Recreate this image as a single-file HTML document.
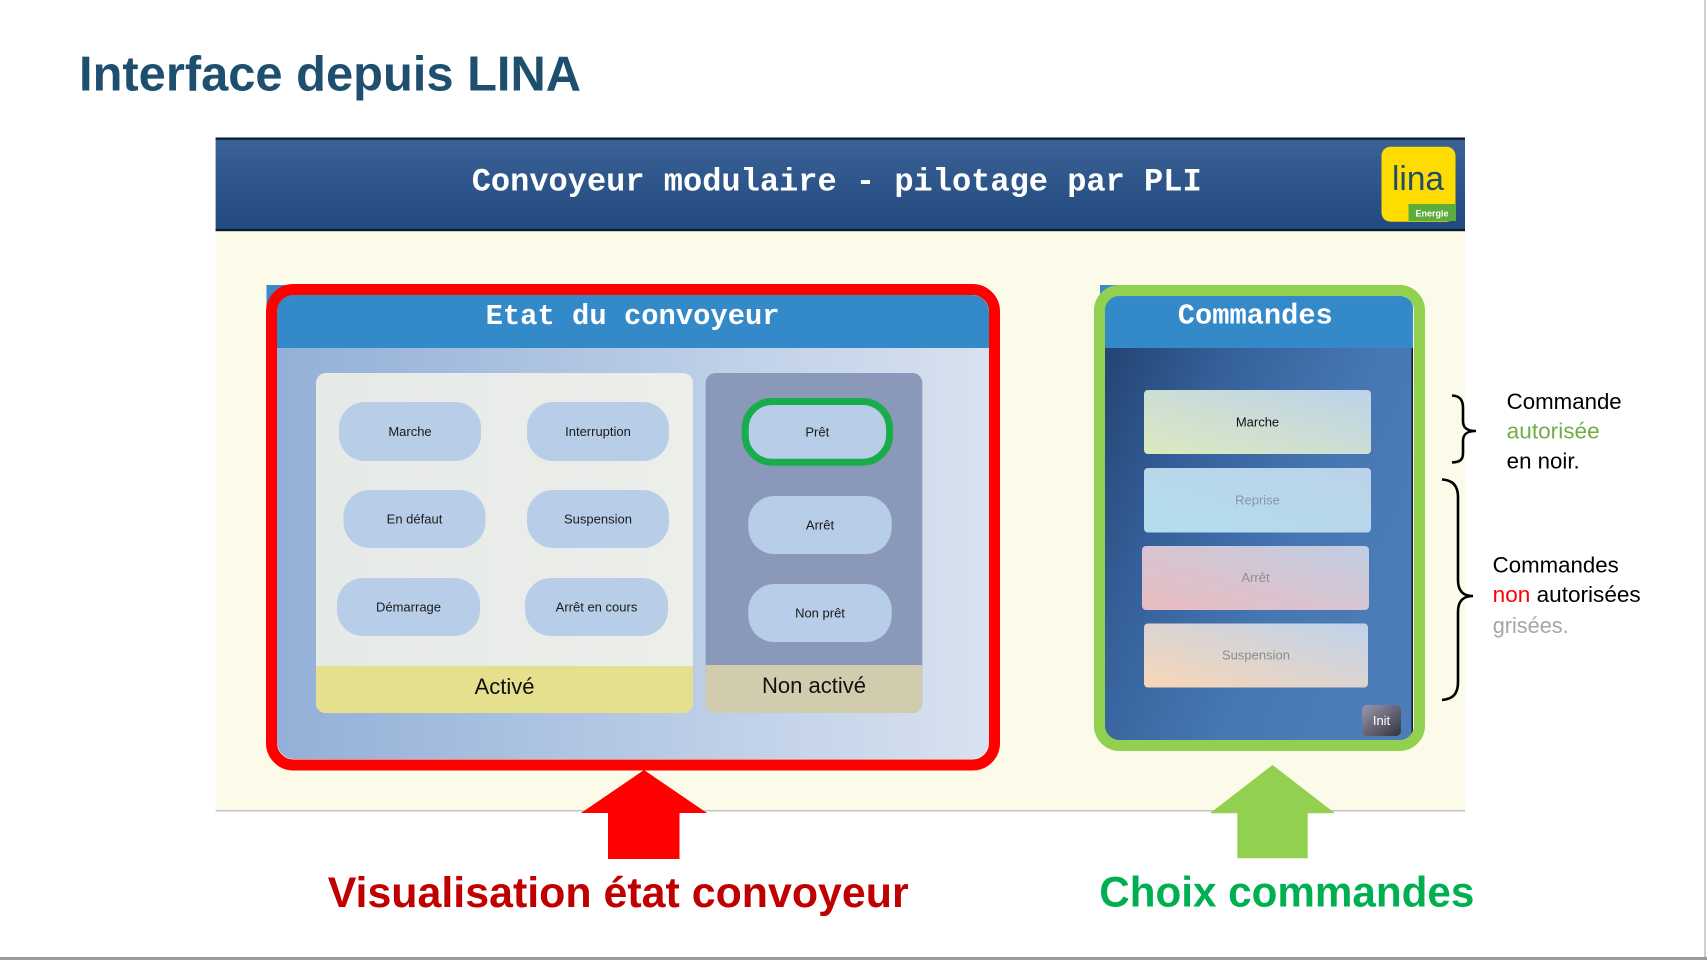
<!DOCTYPE html>
<html>
<head>
<meta charset="utf-8">
<style>
html,body{margin:0;padding:0;background:#fff;}
body{width:1707px;height:960px;overflow:hidden;}
svg{display:block;}
.sans{font-family:"Liberation Sans",Arial,sans-serif;}
.mono{font-family:"Liberation Mono","Courier New",monospace;}
</style>
</head>
<body>
<svg width="1707" height="960" viewBox="0 0 1707 960" xmlns="http://www.w3.org/2000/svg">
<defs>
  <linearGradient id="hdr" x1="0" y1="0" x2="0" y2="1">
    <stop offset="0" stop-color="#3a6297"/>
    <stop offset="1" stop-color="#22497e"/>
  </linearGradient>
  <linearGradient id="redbody" x1="0" y1="0" x2="1" y2="0">
    <stop offset="0" stop-color="#93b0d8"/>
    <stop offset="0.5" stop-color="#b5c9e4"/>
    <stop offset="1" stop-color="#d8e2f0"/>
  </linearGradient>
  <linearGradient id="actgrey" x1="0" y1="0" x2="1" y2="0">
    <stop offset="0" stop-color="#e6eae6"/>
    <stop offset="1" stop-color="#eceeea"/>
  </linearGradient>
  <linearGradient id="cmdbody" x1="0" y1="0" x2="1" y2="0.6">
    <stop offset="0" stop-color="#203f6c"/>
    <stop offset="0.35" stop-color="#35609a"/>
    <stop offset="0.7" stop-color="#4677b3"/>
    <stop offset="1" stop-color="#4c7db8"/>
  </linearGradient>
  <linearGradient id="bMarche" x1="0" y1="1" x2="1" y2="0">
    <stop offset="0" stop-color="#dce9c0"/>
    <stop offset="1" stop-color="#bcd2ea"/>
  </linearGradient>
  <linearGradient id="bReprise" x1="0" y1="1" x2="1" y2="0">
    <stop offset="0" stop-color="#b2deec"/>
    <stop offset="1" stop-color="#bcd2ea"/>
  </linearGradient>
  <linearGradient id="bArret" x1="0" y1="1" x2="1" y2="0">
    <stop offset="0" stop-color="#ebbcc0"/>
    <stop offset="1" stop-color="#c0cde3"/>
  </linearGradient>
  <linearGradient id="bSusp" x1="0" y1="1" x2="1" y2="0">
    <stop offset="0" stop-color="#f9d6b6"/>
    <stop offset="1" stop-color="#bed3ec"/>
  </linearGradient>
  <linearGradient id="bInit" x1="0" y1="0" x2="1" y2="1">
    <stop offset="0" stop-color="#9a98b0"/>
    <stop offset="1" stop-color="#34343f"/>
  </linearGradient>
  <clipPath id="redclip"><rect x="277" y="295" width="712" height="464" rx="17"/></clipPath>
  <clipPath id="grnclip"><rect x="1105" y="296.5" width="308" height="444" rx="12"/></clipPath>
</defs>

<!-- slide border -->
<rect x="1704" y="0" width="2" height="960" fill="#cfcfcf"/>
<rect x="0" y="957" width="1707" height="3" fill="#9a9a9a"/>

<!-- title -->
<text x="79" y="90.7" class="sans" font-size="49" font-weight="bold" fill="#1f4f6f" textLength="502" lengthAdjust="spacingAndGlyphs">Interface depuis LINA</text>

<!-- cream area -->
<rect x="215.6" y="230" width="1249.4" height="581" fill="#fcfbe9"/>
<rect x="215.6" y="810" width="1249.4" height="1.5" fill="#c2c2c2"/>

<!-- header bar -->
<rect x="215.6" y="138" width="1249.4" height="92" fill="url(#hdr)"/>
<rect x="215.6" y="137.5" width="1249.4" height="2.2" fill="#0b1a2c"/>
<rect x="215.6" y="229" width="1249.4" height="2.2" fill="#0b1a2c"/>
<text x="471.7" y="190.7" class="mono" font-size="32" font-weight="bold" fill="#ffffff" textLength="730" lengthAdjust="spacingAndGlyphs">Convoyeur modulaire - pilotage par PLI</text>

<!-- lina logo -->
<rect x="1381.5" y="146.7" width="74" height="75" rx="9" fill="#ffdc00"/>
<rect x="1408.5" y="204" width="47.5" height="17" fill="#5cae3c"/>
<text x="1392" y="190" class="sans" font-size="34" fill="#1f4d6b" textLength="52" lengthAdjust="spacingAndGlyphs">lina</text>
<text x="1432" y="216.5" class="sans" font-size="9" font-weight="bold" fill="#ffffff" text-anchor="middle">Energie</text>

<!-- ===== Etat du convoyeur ===== -->
<rect x="266.5" y="285" width="40" height="40" fill="#3a8ac8"/>
<g clip-path="url(#redclip)">
  <rect x="277" y="295" width="712" height="464" fill="url(#redbody)"/>
  <rect x="277" y="295" width="712" height="53" fill="#3489c9"/>
</g>
<rect x="271.5" y="289.5" width="723" height="475.5" rx="22" fill="none" stroke="#ff0000" stroke-width="11"/>
<text x="632.6" y="324" class="mono" font-size="29" font-weight="bold" fill="#ffffff" text-anchor="middle" textLength="294" lengthAdjust="spacingAndGlyphs">Etat du convoyeur</text>

<!-- Activé panel -->
<rect x="316" y="373" width="377" height="340" rx="10" fill="url(#actgrey)"/>
<path d="M316 666 H693 V703 a10 10 0 0 1 -10 10 H326 a10 10 0 0 1 -10 -10 Z" fill="#e5e08d"/>
<text x="504.5" y="694" class="sans" font-size="22" fill="#111" text-anchor="middle">Activé</text>

<!-- Non activé panel -->
<rect x="705.7" y="373" width="216.6" height="340" rx="10" fill="#8a98b9"/>
<path d="M705.7 665 H922.3 V703 a10 10 0 0 1 -10 10 H715.7 a10 10 0 0 1 -10 -10 Z" fill="#d1ccae"/>
<text x="814" y="693" class="sans" font-size="22" fill="#111" text-anchor="middle">Non activé</text>

<!-- pills -->
<g class="sans" font-size="13" fill="#1a1a1a" text-anchor="middle">
  <rect x="339" y="402" width="142" height="59" rx="26" fill="#b8cde8"/>
  <text x="410" y="436">Marche</text>
  <rect x="527" y="402" width="142" height="59" rx="26" fill="#b8cde8"/>
  <text x="598" y="436">Interruption</text>
  <rect x="343.5" y="490" width="142" height="58" rx="26" fill="#b8cde8"/>
  <text x="414.5" y="523.5">En défaut</text>
  <rect x="527" y="490" width="142" height="58" rx="26" fill="#b8cde8"/>
  <text x="598" y="523.5">Suspension</text>
  <rect x="337" y="578" width="143" height="58" rx="26" fill="#b8cde8"/>
  <text x="408.5" y="611.5">Démarrage</text>
  <rect x="525" y="578" width="143" height="58" rx="26" fill="#b8cde8"/>
  <text x="596.5" y="611.5">Arrêt en cours</text>

  <rect x="745.2" y="401.5" width="144.3" height="60.7" rx="27" fill="#b8cde8" stroke="#17ad4a" stroke-width="7"/>
  <text x="817.3" y="436.5">Prêt</text>
  <rect x="748.3" y="496" width="143.4" height="58" rx="26" fill="#b8cde8"/>
  <text x="820" y="529.5">Arrêt</text>
  <rect x="748.3" y="584" width="143.4" height="58" rx="26" fill="#b8cde8"/>
  <text x="820" y="617.5">Non prêt</text>
</g>

<!-- ===== Commandes ===== -->
<rect x="1100" y="285" width="303" height="15" fill="#3a8ac8"/>
<g clip-path="url(#grnclip)">
  <rect x="1105" y="296.5" width="308" height="444" fill="url(#cmdbody)"/>
  <rect x="1105" y="296.5" width="308" height="51.5" fill="#3489c9"/>
  <rect x="1411.5" y="348" width="1.8" height="392" fill="#0d1a2a"/>
</g>
<rect x="1099.5" y="290.5" width="320" height="455" rx="20" fill="none" stroke="#92d050" stroke-width="11"/>
<text x="1255.3" y="323.3" class="mono" font-size="29" font-weight="bold" fill="#ffffff" text-anchor="middle" textLength="155" lengthAdjust="spacingAndGlyphs">Commandes</text>

<g class="sans" font-size="13" text-anchor="middle">
  <rect x="1144" y="390" width="227" height="64" rx="4" fill="url(#bMarche)"/>
  <text x="1257.5" y="426.5" fill="#111">Marche</text>
  <rect x="1144" y="468" width="227" height="64.5" rx="4" fill="url(#bReprise)"/>
  <text x="1257.5" y="504.5" fill="#8a96a4">Reprise</text>
  <rect x="1142" y="546" width="227" height="64" rx="4" fill="url(#bArret)"/>
  <text x="1255.5" y="582" fill="#8c8c96">Arrêt</text>
  <rect x="1144" y="623.5" width="224" height="64" rx="4" fill="url(#bSusp)"/>
  <text x="1256" y="659.5" fill="#8c8c8c">Suspension</text>
  <rect x="1362" y="705" width="39" height="31" rx="5" fill="url(#bInit)"/>
  <text x="1381.5" y="725" fill="#ffffff">Init</text>
</g>

<!-- arrows -->
<polygon points="644,770 707,813 679.5,813 679.5,859 608,859 608,813 581,813" fill="#ff0000"/>
<polygon points="1272.5,765 1335,813.3 1307.7,813.3 1307.7,858.3 1237.3,858.3 1237.3,813.3 1210,813.3" fill="#92d050"/>

<!-- captions -->
<text x="327.7" y="907" class="sans" font-size="43" font-weight="bold" fill="#c00000" textLength="581" lengthAdjust="spacingAndGlyphs">Visualisation état convoyeur</text>
<text x="1099.3" y="906.7" class="sans" font-size="43" font-weight="bold" fill="#00b050" textLength="375" lengthAdjust="spacingAndGlyphs">Choix commandes</text>

<!-- braces -->
<path d="M1452,395.5 C1460,396 1463,400 1463,408 L1463,421 C1463,428 1467,431 1476,431 C1467,431 1463,434 1463,441 L1463,453 C1463,460 1460,462 1452,462.5" fill="none" stroke="#000" stroke-width="2.6"/>
<path d="M1442,479.5 C1453,480 1458,486 1458,497 L1458,580 C1458,591 1463,596 1473,596 C1463,596 1458,601 1458,612 L1458,682 C1458,694 1453,699 1442,700" fill="none" stroke="#000" stroke-width="2.6"/>

<!-- annotations -->
<g class="sans" font-size="22">
  <text x="1506.7" y="409" fill="#000" textLength="115" lengthAdjust="spacingAndGlyphs">Commande</text>
  <text x="1506.7" y="438.5" fill="#70ad47" textLength="93" lengthAdjust="spacingAndGlyphs">autorisée</text>
  <text x="1506.7" y="468.5" fill="#000" textLength="73" lengthAdjust="spacingAndGlyphs">en noir.</text>
  <text x="1492.7" y="572.7" fill="#000" textLength="126" lengthAdjust="spacingAndGlyphs">Commandes</text>
  <text x="1492.7" y="602" fill="#000" textLength="148" lengthAdjust="spacingAndGlyphs"><tspan fill="#ff0000">non</tspan> autorisées</text>
  <text x="1492.7" y="633" fill="#a6a6a6" textLength="76" lengthAdjust="spacingAndGlyphs">grisées.</text>
</g>
</svg>
</body>
</html>
